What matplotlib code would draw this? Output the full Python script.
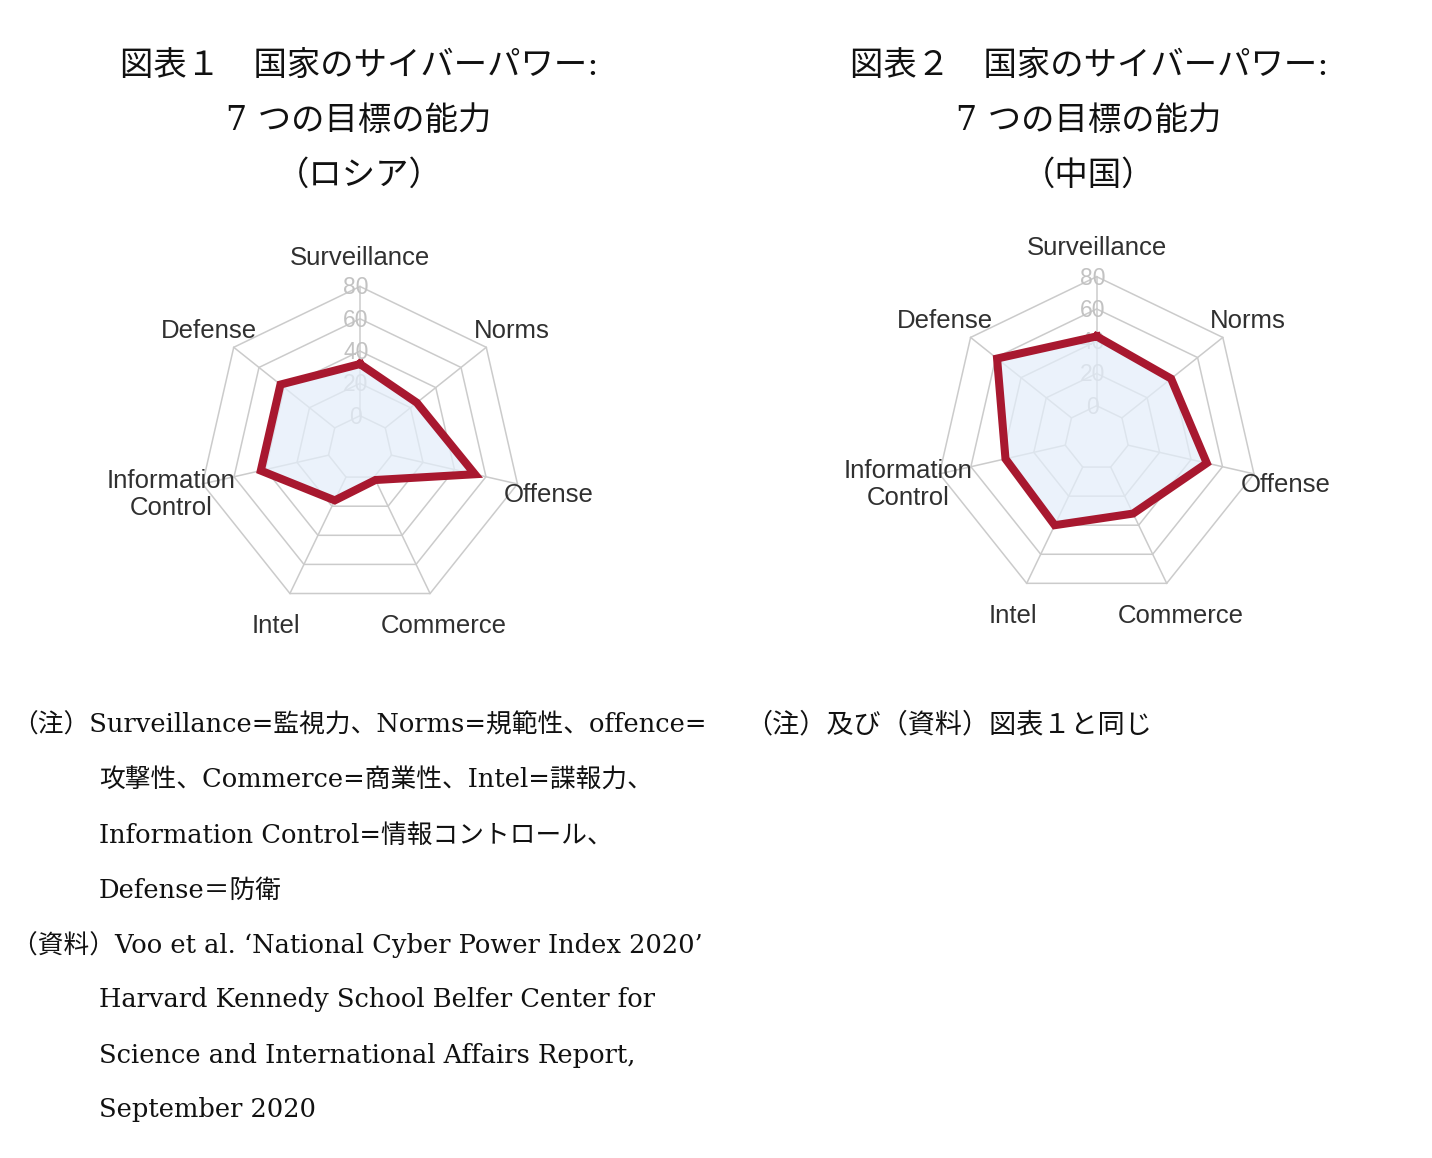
import numpy as np
import matplotlib
matplotlib.use("Agg")
import matplotlib.pyplot as plt

# ---------------- data ----------------
categories = ["Surveillance", "Norms", "Offense", "Commerce", "Intel",
              "Information\nControl", "Defense"]
russia_values = [32, 25, 53, 2, 16, 43, 43]
china_values = [43, 39, 50, 32, 40, 38, 59]
ring_levels = [0, 20, 40, 60, 80]
ring_labels = ["0", "20", "40", "60", "80"]
r_min, r_max = -20, 80

title_russia = ["図表１　国家のサイバーパワー:", "7 つの目標の能力", "（ロシア）"]
title_china = ["図表２　国家のサイバーパワー:", "7 つの目標の能力", "（中国）"]
note_lines = [
    "（注）Surveillance=監視力、Norms=規範性、offence=",
    "攻撃性、Commerce=商業性、Intel=諜報力、",
    "Information Control=情報コントロール、",
    "Defense＝防衛",
    "（資料）Voo et al. ‘National Cyber Power Index 2020’",
    "Harvard Kennedy School Belfer Center for",
    "Science and International Affairs Report,",
    "September 2020",
]
note_right = "（注）及び（資料）図表１と同じ"

# ---------------- style ----------------
W, H = 1432, 1158
fig = plt.figure(figsize=(W / 100, H / 100), dpi=100)
fig.patch.set_facecolor("white")

JP = ["DejaVu Serif", "Noto Sans CJK JP"]
SANS = ["Liberation Sans", "DejaVu Sans"]
GRID = "#cbcbcb"
LINE = "#a8182f"
FILL = "#e4eefa"
TICKC = "#c2c2c2"


def fx(px):
    return px / W


def fy(py):
    return 1 - py / H


def radar(cx, cy, R, values):
    ax = fig.add_axes([fx(cx - R), fy(cy + R), 2 * R / W, 2 * R / H],
                      projection="polar")
    ax.set_theta_zero_location("N")
    ax.set_theta_direction(-1)
    ax.set_ylim(r_min, r_max)
    ax.axis("off")
    n = len(categories)
    ang = np.arange(n) * 2 * np.pi / n
    closed = np.append(ang, ang[0])
    for lev in ring_levels:
        ax.plot(closed, [lev] * (n + 1), color=GRID, lw=1.1, zorder=1,
                clip_on=False)
    for a in ang:
        ax.plot([a, a], [ring_levels[0], ring_levels[-1]], color=GRID,
                lw=1.1, zorder=1, clip_on=False)
    for lev, lab in zip(ring_levels, ring_labels):
        ax.annotate(lab, xy=(0, lev), xytext=(-3, -1),
                    textcoords="offset points", ha="center", va="center",
                    fontsize=16.5, color=TICKC, family=SANS, zorder=2,
                    annotation_clip=False)
    vals = np.append(values, values[0])
    ax.fill(closed, vals, color=FILL, alpha=0.72, zorder=3, lw=0)
    ax.plot(closed, vals, color=LINE, lw=5.8, zorder=4,
            solid_joinstyle="miter", clip_on=False)
    for a, lab in zip(ang, categories):
        ax.annotate(lab, xy=(a, 100), xytext=(0, -2.5),
                    textcoords="offset points", ha="center", va="center",
                    fontsize=18.5, color="#303030", family=SANS,
                    linespacing=1.2, multialignment="center",
                    annotation_clip=False)
    return ax


radar(360, 448, 161.5, russia_values)
radar(1096.7, 438, 161.3, china_values)

# titles
for lines, cx in ((title_russia, 359), (title_china, 1089)):
    for txt, y in zip(lines, (66, 121, 176)):
        fig.text(fx(cx), fy(y), txt, ha="center", va="center",
                 fontsize=24, family=JP, color="#111111")

# notes
ys = [725 + 55 * i for i in range(len(note_lines))]
xs = [12, 99, 99, 99, 12, 99, 99, 99]
for txt, x, y in zip(note_lines, xs, ys):
    fig.text(fx(x), fy(y), txt, ha="left", va="center", fontsize=18.5,
             family=JP, color="#111111")
fig.text(fx(745), fy(725), note_right, ha="left", va="center",
         fontsize=19.5, family=JP, color="#111111")

fig.savefig("out.png", dpi=100, facecolor="white")
